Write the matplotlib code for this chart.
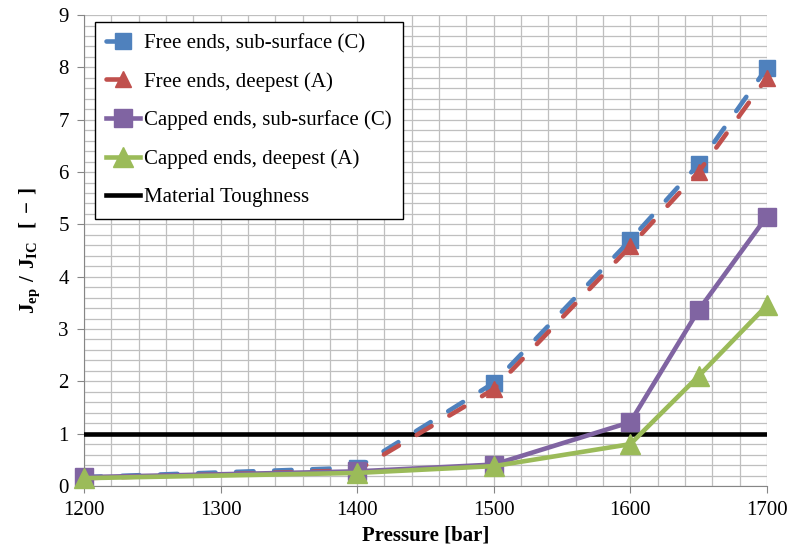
import matplotlib.pyplot as plt
from matplotlib.ticker import MultipleLocator

plt.rcParams['font.family'] = ['Liberation Serif', 'DejaVu Serif']
plt.rcParams['mathtext.fontset'] = 'custom'
plt.rcParams['mathtext.rm'] = 'Liberation Serif'
plt.rcParams['mathtext.bf'] = 'Liberation Serif:bold'

# datos
pressure = [1200, 1400, 1500, 1600, 1650, 1700]
free_sub = [0.17, 0.35, 1.97, 4.70, 6.15, 7.99]
free_deep = [0.15, 0.30, 1.85, 4.58, 6.00, 7.80]
capped_sub = [0.17, 0.28, 0.41, 1.22, 3.36, 5.15]
capped_deep = [0.15, 0.25, 0.38, 0.80, 2.10, 3.45]
toughness_x = [1200, 1700]
toughness_y = [1, 1]

fig = plt.figure(figsize=(7.93, 5.58), dpi=100)
ax = fig.add_axes([0.106, 0.129, 0.861, 0.844])

lw = 3.3
ax.plot(pressure, free_sub, color='#4F81BD', lw=lw, dashes=(3.8, 4.5),
        dash_capstyle='round', marker='s', ms=11.5, clip_on=False,
        label='Free ends, sub-surface (C)', zorder=4)
ax.plot(pressure, free_deep, color='#C0504D', lw=lw, dashes=(3.8, 4.5),
        dash_capstyle='round', marker='^', ms=12, clip_on=False,
        label='Free ends, deepest (A)', zorder=4)
ax.plot(pressure, capped_sub, color='#8064A2', lw=lw,
        marker='s', ms=13, clip_on=False,
        label='Capped ends, sub-surface (C)', zorder=4)
ax.plot(pressure, capped_deep, color='#9BBB59', lw=lw,
        marker='^', ms=14, clip_on=False,
        label='Capped ends, deepest (A)', zorder=4)
ax.plot(toughness_x, toughness_y, color='black', lw=lw,
        label='Material Toughness', zorder=3)

ax.set_xlim(1200, 1700)
ax.set_ylim(0, 9)
ax.xaxis.set_major_locator(MultipleLocator(100))
ax.xaxis.set_minor_locator(MultipleLocator(20))
ax.yaxis.set_major_locator(MultipleLocator(1))
ax.yaxis.set_minor_locator(MultipleLocator(0.2))
ax.grid(which='both', color='#BFBFBF', lw=0.9, zorder=0)
ax.set_axisbelow(True)

for s in ['top', 'right']:
    ax.spines[s].set_visible(False)
for s in ['left', 'bottom']:
    ax.spines[s].set_color('#868686')
ax.tick_params(which='major', length=5, color='#868686', labelsize=15, pad=6)
ax.tick_params(which='minor', length=0)

ax.set_xlabel('Pressure [bar]', fontsize=15, fontweight='bold', labelpad=4)
ax.set_ylabel(r'$\mathbf{J_{ep}\ /\ J_{IC}\ \ [\!\ -\!\ ]}$', fontsize=15, labelpad=12)

leg = ax.legend(loc='upper left', bbox_to_anchor=(0.0155, 0.985), fontsize=15,
                frameon=True, fancybox=False, edgecolor='black', framealpha=1,
                handlelength=1.65, handletextpad=0.15, labelspacing=0.9,
                borderpad=0.55, borderaxespad=0)
leg.get_frame().set_linewidth(1.0)

plt.savefig('out.png')
plt.close()
